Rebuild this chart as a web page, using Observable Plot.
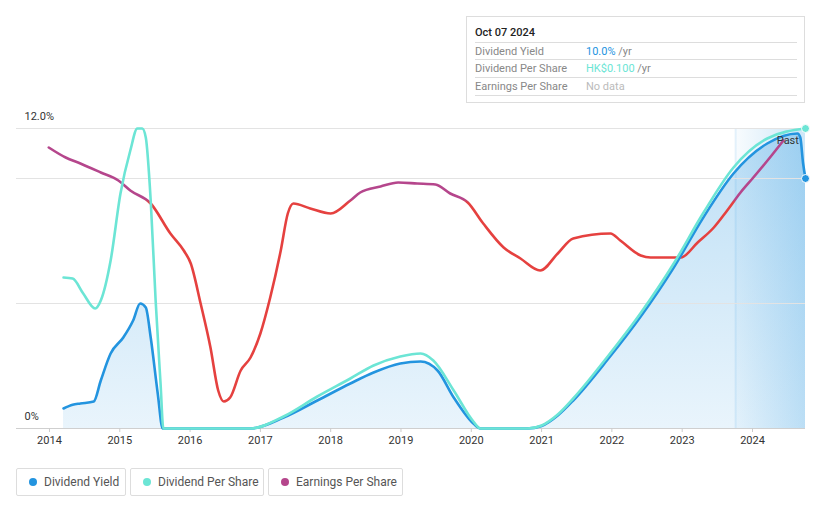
<!DOCTYPE html>
<html>
<head>
<meta charset="utf-8">
<script src="https://cdn.jsdelivr.net/npm/d3@7"></script>
<script src="https://cdn.jsdelivr.net/npm/@observablehq/plot@0.6"></script>
<style>
  body { margin: 0; background: #fff; font-family: Roboto, "Open Sans", sans-serif; }
  #wrap { position: relative; width: 821px; height: 508px; overflow: hidden; }
  #wrap svg [aria-label="x-axis tick"] { stroke: #ccc; }
  #wrap svg [aria-label="x-axis tick label"] { fill: #333; }
  #tip { position: absolute; left: 466px; top: 16px; width: 339px; height: 87px; border: 1px solid #ddd; box-sizing: border-box; background: #fff; }
  #tip .date { position: absolute; left: 8px; top: 9px; font-size: 11px; font-weight: 500; color: #222; }
  #tip .row { position: absolute; left: 8px; width: 322px; height: 17px; border-bottom: 1px solid #ddd; font-size: 11px; line-height: 17px; color: #888; }
  #tip .row .lab { position: absolute; left: 0; }
  #tip .row .val { position: absolute; left: 111px; }
  #tip .sep { position: absolute; left: 8px; width: 322px; top: 25px; border-top: 1px solid #ddd; }
  .legend { position: absolute; top: 468px; height: 28px; border: 1px solid #ddd; border-radius: 2px; box-sizing: border-box; font-size: 12px; color: #555; line-height: 26px; }
  .legend .dot { position: absolute; left: 12px; top: 9px; width: 8px; height: 8px; border-radius: 50%; }
  .legend .txt { position: absolute; left: 27px; white-space: nowrap; }
</style>
</head>
<body>
<div id="wrap"></div>
<script>
// ---- data (decimal years, chart value in %-scale units) ----
const yieldYears  = [2014.20, 2014.33, 2014.44, 2014.63, 2014.73, 2014.87, 2015.05, 2015.19, 2015.29, 2015.37, 2015.44, 2015.54, 2015.61, 2016.00, 2016.50, 2016.86, 2017.33, 2017.81, 2018.28, 2018.61, 2018.99, 2019.28, 2019.52, 2019.75, 2020.03, 2020.13, 2020.50, 2020.80, 2021.00, 2021.23, 2021.45, 2021.94, 2022.41, 2022.88, 2023.30, 2023.73, 2024.21, 2024.64, 2024.68, 2024.72, 2024.754];
const yieldValues = [0.80, 0.95, 1.00, 1.08, 1.92, 3.00, 3.64, 4.32, 5.00, 4.84, 3.64, 1.40, 0.00, 0.00, 0.00, 0.00, 0.44, 1.12, 1.80, 2.24, 2.60, 2.68, 2.32, 1.24, 0.20, 0.00, 0.00, 0.00, 0.10, 0.52, 1.12, 2.76, 4.48, 6.44, 8.44, 10.20, 11.40, 11.80, 11.64, 10.60, 10.00];

const dpsYears  = [2014.20, 2014.33, 2014.48, 2014.65, 2014.73, 2014.87, 2015.01, 2015.15, 2015.25, 2015.32, 2015.37, 2015.44, 2015.51, 2015.58, 2015.62, 2016.00, 2016.50, 2016.86, 2017.33, 2017.81, 2018.28, 2018.61, 2018.99, 2019.28, 2019.46, 2019.75, 2020.03, 2020.13, 2020.50, 2020.80, 2021.00, 2021.23, 2021.45, 2021.94, 2022.41, 2022.88, 2023.30, 2023.73, 2024.21, 2024.754];
const dpsValues = [6.04, 6.00, 5.40, 4.80, 5.12, 6.72, 9.40, 11.12, 12.00, 12.00, 11.64, 9.12, 5.12, 1.80, 0.00, 0.00, 0.00, 0.00, 0.48, 1.28, 2.00, 2.52, 2.88, 3.00, 2.72, 1.52, 0.28, 0.00, 0.00, 0.00, 0.12, 0.56, 1.20, 2.88, 4.62, 6.60, 8.62, 10.44, 11.60, 12.00];

const epsYears  = [2013.99, 2014.23, 2014.44, 2014.73, 2014.98, 2015.15, 2015.44, 2015.72, 2015.91, 2016.01, 2016.15, 2016.29, 2016.40, 2016.48, 2016.57, 2016.72, 2016.86, 2017.00, 2017.14, 2017.29, 2017.39, 2017.47, 2017.71, 2018.00, 2018.28, 2018.42, 2018.71, 2018.96, 2019.23, 2019.49, 2019.70, 2019.95, 2020.17, 2020.46, 2020.70, 2020.98, 2021.23, 2021.45, 2021.98, 2022.12, 2022.41, 2022.55, 2022.98, 2023.22, 2023.45, 2023.64, 2023.83, 2024.00, 2024.26, 2024.44];
const epsValues = [11.24, 10.84, 10.60, 10.24, 9.92, 9.52, 9.00, 7.80, 7.12, 6.60, 5.00, 3.24, 1.52, 1.08, 1.24, 2.32, 2.84, 3.80, 5.24, 7.12, 8.60, 9.00, 8.80, 8.60, 9.12, 9.44, 9.68, 9.84, 9.80, 9.76, 9.40, 9.04, 8.20, 7.24, 6.80, 6.32, 7.00, 7.60, 7.80, 7.52, 6.92, 6.84, 6.84, 7.44, 8.04, 8.72, 9.44, 10.00, 10.88, 11.52];

const yearTicks = [2014, 2015, 2016, 2017, 2018, 2019, 2020, 2021, 2022, 2023, 2024];
const gridValues = [5, 10, 12];
const yLabelValues = [12, 0];
const yLabelTexts = ["12.0%", "0%"];
const xDomain = [2013.531, 2024.754];
const pastStart = 2023.76;
const pastLabel = "Past";
const epsColorSplit = 9.1;

const seriesNames = ["Dividend Yield", "Dividend Per Share", "Earnings Per Share"];
const seriesColors = ["#2394df", "#6ce5d5", "#b5468c"];
const epsLowColor = "#e5413f";
const tipDate = "Oct 07 2024";
const tipValues = ["10.0%", "HK$0.100", "No data"];
const tipUnits = [" /yr", " /yr", ""];

// ---- tables ----
const yieldData = yieldYears.map((x, i) => ({x, y: yieldValues[i]}));
const dpsData = dpsYears.map((x, i) => ({x, y: dpsValues[i]}));
const epsData = epsYears.map((x, i) => ({x, y: epsValues[i]}));

const chart = Plot.plot({
  width: 821,
  height: 508,
  marginLeft: 16,
  marginRight: 16,
  marginTop: 128,
  marginBottom: 80,
  style: {fontFamily: "Roboto, sans-serif", fontSize: "11px", background: "transparent", overflow: "visible"},
  x: {domain: xDomain},
  y: {domain: [0, 12], axis: null},
  marks: [
    Plot.rect([pastStart], {x1: d => d, x2: () => xDomain[1], y1: () => 0, y2: () => 12, fill: "url(#pastGrad)"}),
    Plot.ruleX([pastStart], {x: d => d, y1: () => 0, y2: () => 12, stroke: "#2394df", strokeOpacity: 0.1, strokeWidth: 2}),
    Plot.areaY(yieldData, {x: "x", y: "y", curve: "monotone-x", fill: "url(#areaGrad)"}),
    Plot.ruleY(gridValues, {stroke: "#e3e3e3"}),
    Plot.ruleY([0], {stroke: "#cfcfcf"}),
    Plot.axisX({ticks: yearTicks, tickFormat: d => String(d), tickSize: 4, tickPadding: 4, fontSize: 11, label: null}),
    Plot.line(epsData, {x: "x", y: "y", curve: "monotone-x", stroke: "url(#epsGrad)", strokeWidth: 2.6}),
    Plot.line(yieldData, {x: "x", y: "y", curve: "monotone-x", stroke: seriesColors[0], strokeWidth: 2.6}),
    Plot.line(dpsData, {x: "x", y: "y", curve: "monotone-x", stroke: seriesColors[1], strokeWidth: 2.6}),
    Plot.dot([yieldData[yieldData.length - 1]], {x: "x", y: "y", r: 4, fill: seriesColors[0], stroke: "white", strokeWidth: 1}),
    Plot.dot([dpsData[dpsData.length - 1]], {x: "x", y: "y", r: 4, fill: seriesColors[1], stroke: "white", strokeWidth: 1}),
    Plot.text([pastLabel], {x: () => 2024.66, y: () => 12, text: d => d, textAnchor: "end", dy: 12, fontSize: 11, fill: "#333"}),
    Plot.text(yLabelValues, {x: () => xDomain[0], y: d => d, text: (d, i) => yLabelTexts[i], textAnchor: "start", dx: 8, dy: -12, fontSize: 11, fill: "#333"})
  ]
});

// gradients in pixel space from the scales
const ys = chart.scale("y"), xs = chart.scale("x");
const yTop = ys.apply(12), yBot = ys.apply(0);
const split = (12 - epsColorSplit) / 12;
const defs = document.createElementNS("http://www.w3.org/2000/svg", "defs");
defs.innerHTML = `
  <linearGradient id="areaGrad" gradientUnits="userSpaceOnUse" x1="0" y1="${yTop}" x2="0" y2="${yBot}">
    <stop offset="0" stop-color="#2394df" stop-opacity="0.30"/>
    <stop offset="1" stop-color="#2394df" stop-opacity="0.10"/>
  </linearGradient>
  <linearGradient id="pastGrad" gradientUnits="userSpaceOnUse" x1="${xs.apply(pastStart)}" y1="0" x2="${xs.apply(xDomain[1])}" y2="0">
    <stop offset="0" stop-color="#2394df" stop-opacity="0.03"/>
    <stop offset="1" stop-color="#2394df" stop-opacity="0.23"/>
  </linearGradient>
  <linearGradient id="epsGrad" gradientUnits="userSpaceOnUse" x1="0" y1="${yTop}" x2="0" y2="${yBot}">
    <stop offset="0" stop-color="${seriesColors[2]}"/>
    <stop offset="${split - 0.006}" stop-color="${seriesColors[2]}"/>
    <stop offset="${split + 0.006}" stop-color="${epsLowColor}"/>
    <stop offset="1" stop-color="${epsLowColor}"/>
  </linearGradient>`;
chart.insertBefore(defs, chart.firstChild);

const wrap = document.getElementById("wrap");
wrap.appendChild(chart);

// tooltip box
const tip = document.createElement("div");
tip.id = "tip";
let html = `<div class="date">${tipDate}</div><div class="sep"></div>`;
const rowTops = [26, 43, 61];
const valColors = [seriesColors[0], seriesColors[1], "#bbb"];
seriesNames.forEach((n, i) => {
  html += `<div class="row" style="top:${rowTops[i]}px;height:${i === 2 ? 17 : (rowTops[i + 1] - rowTops[i] - 1)}px"><span class="lab">${n}</span><span class="val"><span style="color:${valColors[i]}">${tipValues[i]}</span>${tipUnits[i]}</span></div>`;
});
tip.innerHTML = html;
wrap.appendChild(tip);

// legend boxes
const legendLeft = [16, 130, 268];
const legendWidth = [110, 134, 135];
seriesNames.forEach((n, i) => {
  const b = document.createElement("div");
  b.className = "legend";
  b.style.left = legendLeft[i] + "px";
  b.style.width = legendWidth[i] + "px";
  b.innerHTML = `<span class="dot" style="background:${seriesColors[i]}"></span><span class="txt">${n}</span>`;
  wrap.appendChild(b);
});
</script>
</body>
</html>
